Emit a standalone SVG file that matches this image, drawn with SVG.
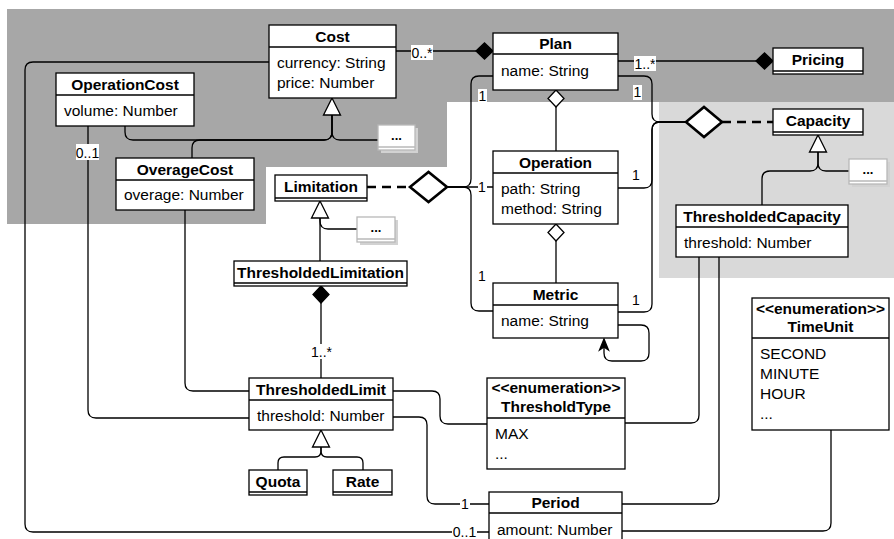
<svg xmlns="http://www.w3.org/2000/svg" width="894" height="539" viewBox="0 0 894 539">
<style>
text{font-family:"Liberation Sans",Arial,sans-serif;font-size:15.5px;fill:#000}
.t{font-weight:bold;text-anchor:middle}
.m{font-size:14px;text-anchor:middle}
.box{fill:#fff;stroke:#000;stroke-width:1.3}
.sep{stroke:#000;stroke-width:1.3}
.e{fill:none;stroke:#000;stroke-width:1.3}
.fd{fill:#000;stroke:#000;stroke-width:1.3}
.od{fill:#fff;stroke:#000;stroke-width:1.3}
.bd{fill:#fff;stroke:#000;stroke-width:2.6}
.dash{fill:none;stroke:#000;stroke-width:2.6;stroke-dasharray:9 6}
.lb{fill:#fff}
.more{fill:#fff;stroke:#b8b8b8;stroke-width:1.3}
.msep{stroke:#b8b8b8;stroke-width:1.3}
.sh{fill:#d2d2d2}
.dots{font-weight:bold;font-size:13px;text-anchor:middle}
</style>
<g id="backgrounds">
<path d="M7,9H894V102H447V167H266V224H7Z" fill="#a7a7a7"/>
<rect x="659" y="102" width="235" height="176" fill="#d9d9d9"/>
</g>
<g id="connectors">
<path class="e" d="M396,51H476"/>
<polygon class="fd" points="476,51 484.5,43 493,51 484.5,59"/>
<path class="e" d="M618,61H756"/>
<polygon class="fd" points="756,61 764.5,53 773,61 764.5,69"/>
<path class="e" d="M618,76H644Q652,76 652,84V114Q652,122 660,122H686"/>
<path class="e" d="M618,188H644Q652,188 652,180V130Q652,122 660,122H686"/>
<path class="e" d="M618,312H644Q652,312 652,304V130Q652,122 660,122H686"/>
<polygon class="bd" points="686,122 704,107 722,122 704,137"/>
<path class="dash" d="M722,122H773"/>
<path class="e" d="M493,76H479Q471,76 471,84V179Q471,187 463,187H447"/>
<path class="e" d="M493,187H447"/>
<path class="e" d="M493,311H479Q471,311 471,303V195Q471,187 463,187H447"/>
<polygon class="bd" points="410,187 428.5,172 447,187 428.5,202"/>
<path class="dash" d="M367,187H410"/>
<path class="e" d="M556,107V151"/>
<polygon class="od" points="556,90 564,98.5 556,107 548,98.5"/>
<path class="e" d="M556,241V283"/>
<polygon class="od" points="556,224 564,232.5 556,241 548,232.5"/>
<path class="e" d="M618,325H641Q649,325 649,333V353Q649,361 641,361H612Q604,361 604,353V346"/>
<polygon class="fd" points="604,339 608.5,350 604,347 599.5,350"/>
<path class="e" d="M125,126V132Q125,140 133,140H324Q332,140 332,132V115"/>
<path class="e" d="M192,158V148Q192,140 200,140H324Q332,140 332,132V115"/>
<path class="e" d="M378,140H340Q332,140 332,132V115"/>
<polygon class="od" points="332,98 340.5,115 323.5,115"/>
<path class="e" d="M320,261V218"/>
<path class="e" d="M357,229H328Q320,229 320,221V218"/>
<polygon class="od" points="320,201 328.5,218 311.5,218"/>
<path class="e" d="M762,205V179Q762,171 770,171H810Q818,171 818,163V152"/>
<path class="e" d="M849,171H826Q818,171 818,163V152"/>
<polygon class="od" points="818,135 826.5,152 809.5,152"/>
<path class="e" d="M321,303V378"/>
<polygon class="fd" points="321,286 329,294.5 321,303 313,294.5"/>
<path class="e" d="M185,210V383Q185,391 193,391H249"/>
<path class="e" d="M88,126V410Q88,418 96,418H249"/>
<path class="e" d="M269,62H33Q25,62 25,70V524Q25,532 33,532H489"/>
<path class="e" d="M393,391H432Q440,391 440,399V416Q440,424 448,424H487"/>
<path class="e" d="M393,417H419Q427,417 427,425V496Q427,504 435,504H489"/>
<path class="e" d="M699,257V415Q699,423 691,423H625"/>
<path class="e" d="M719,257V496Q719,504 711,504H622"/>
<path class="e" d="M831,430V523Q831,531 823,531H622"/>
<path class="e" d="M278,470V463Q278,457 284,457H315Q321,457 321,451V447"/>
<path class="e" d="M363,470V463Q363,457 357,457H327Q321,457 321,451V447"/>
<polygon class="od" points="321,430 329.5,447 312.5,447"/>
</g>
<g id="labels">
<rect class="lb" x="411" y="45" width="22" height="15"/><text class="m" x="422" y="58">0..*</text>
<rect class="lb" x="634" y="56" width="22" height="15"/><text class="m" x="645" y="69">1..*</text>
<rect class="lb" x="633" y="85" width="9" height="15"/><text class="m" x="637.5" y="97">1</text>
<rect class="lb" x="478" y="89" width="9" height="14"/><text class="m" x="482.5" y="101">1</text>
<rect class="lb" x="478" y="180" width="9" height="14"/><text class="m" x="482" y="192">1</text>
<text class="m" x="482" y="281">1</text>
<text class="m" x="636" y="180">1</text>
<text class="m" x="636" y="305">1</text>
<rect class="lb" x="76" y="144" width="23" height="16"/><text class="m" x="87.5" y="158">0..1</text>
<rect class="lb" x="310" y="344" width="23" height="15"/><text class="m" x="321.5" y="357">1..*</text>
<rect class="lb" x="460" y="497" width="10" height="14"/><text class="m" x="465" y="509">1</text>
<rect class="lb" x="452" y="525" width="25" height="14"/><text class="m" x="464.5" y="537">0..1</text>
</g>
<g id="Cost"><rect class="box" x="269" y="25" width="127" height="73"/><path class="sep" d="M269,47H396"/>
<text class="t" x="332.5" y="41.5">Cost</text><text x="277" y="67.5">currency: String</text><text x="277" y="87.5">price: Number</text></g>
<g id="Plan"><rect class="box" x="493" y="33" width="125" height="57"/><path class="sep" d="M493,54H618"/>
<text class="t" x="555.5" y="49">Plan</text><text x="501" y="75.5">name: String</text></g>
<g id="Pricing"><rect class="box" x="773" y="48" width="90" height="26"/><path class="sep" d="M773,71H863"/>
<text class="t" x="818" y="65">Pricing</text></g>
<g id="Capacity"><rect class="box" x="773" y="109" width="90" height="26"/><path class="sep" d="M773,132H863"/>
<text class="t" x="818" y="126">Capacity</text></g>
<g id="OperationCost"><rect class="box" x="56" y="73" width="138" height="53"/><path class="sep" d="M56,95H194"/>
<text class="t" x="125" y="89.5">OperationCost</text><text x="64" y="115.5">volume: Number</text></g>
<g id="OverageCost"><rect class="box" x="116" y="158" width="138" height="52"/><path class="sep" d="M116,180H254"/>
<text class="t" x="185" y="174.5">OverageCost</text><text x="124" y="199.5">overage: Number</text></g>
<g id="CostMore"><rect class="sh" x="381" y="128" width="37" height="25"/><rect class="more" x="378" y="125" width="37" height="25"/><path class="msep" d="M378,147H415"/>
<text class="dots" x="396.5" y="140">...</text></g>
<g id="Limitation"><rect class="box" x="275" y="175" width="92" height="26"/><path class="sep" d="M275,198H367"/>
<text class="t" x="321" y="192">Limitation</text></g>
<g id="LimitationMore"><rect class="sh" x="360" y="220" width="38" height="25"/><rect class="more" x="357" y="217" width="38" height="25"/><path class="msep" d="M357,239H395"/>
<text class="dots" x="376" y="232">...</text></g>
<g id="ThresholdedLimitation"><rect class="box" x="234" y="261" width="173" height="25"/><path class="sep" d="M234,283H407"/>
<text class="t" x="320.5" y="277.5">ThresholdedLimitation</text></g>
<g id="Operation"><rect class="box" x="493" y="151" width="125" height="73"/><path class="sep" d="M493,173H618"/>
<text class="t" x="555.5" y="167.5">Operation</text><text x="501" y="193.5">path: String</text><text x="501" y="213.5">method: String</text></g>
<g id="Metric"><rect class="box" x="493" y="283" width="125" height="55"/><path class="sep" d="M493,305H618"/>
<text class="t" x="555.5" y="299.5">Metric</text><text x="501" y="325.5">name: String</text></g>
<g id="CapacityMore"><rect class="sh" x="852" y="162" width="38" height="25"/><rect class="more" x="849" y="159" width="38" height="25"/><path class="msep" d="M849,181H887"/>
<text class="dots" x="868" y="174">...</text></g>
<g id="ThresholdedCapacity"><rect class="box" x="676" y="205" width="172" height="52"/><path class="sep" d="M676,227H848"/>
<text class="t" x="762" y="221.5">ThresholdedCapacity</text><text x="684" y="247.5">threshold: Number</text></g>
<g id="TimeUnit"><rect class="box" x="752" y="298" width="137" height="132"/><path class="sep" d="M752,338H889"/>
<text class="t" x="820.5" y="313.5">&lt;&lt;enumeration&gt;&gt;</text><text class="t" x="820.5" y="331.5">TimeUnit</text>
<text x="760" y="358.5">SECOND</text><text x="760" y="378.5">MINUTE</text><text x="760" y="398.5">HOUR</text><text x="760" y="419">...</text></g>
<g id="ThresholdType"><rect class="box" x="487" y="378" width="138" height="91"/><path class="sep" d="M487,418H625"/>
<text class="t" x="556" y="392.5">&lt;&lt;enumeration&gt;&gt;</text><text class="t" x="556" y="411.5">ThresholdType</text>
<text x="495" y="438.5">MAX</text><text x="495" y="459">...</text></g>
<g id="ThresholdedLimit"><rect class="box" x="249" y="378" width="144" height="52"/><path class="sep" d="M249,400H393"/>
<text class="t" x="321" y="394.5">ThresholdedLimit</text><text x="257" y="420.5">threshold: Number</text></g>
<g id="Quota"><rect class="box" x="249" y="470" width="58" height="25"/><path class="sep" d="M249,492H307"/>
<text class="t" x="278" y="486.5">Quota</text></g>
<g id="Rate"><rect class="box" x="333" y="470" width="59" height="25"/><path class="sep" d="M333,492H392"/>
<text class="t" x="362.5" y="486.5">Rate</text></g>
<g id="Period"><rect class="box" x="489" y="492" width="133" height="52"/><path class="sep" d="M489,513H622"/>
<text class="t" x="555.5" y="508">Period</text><text x="497" y="535">amount: Number</text></g>
</svg>
